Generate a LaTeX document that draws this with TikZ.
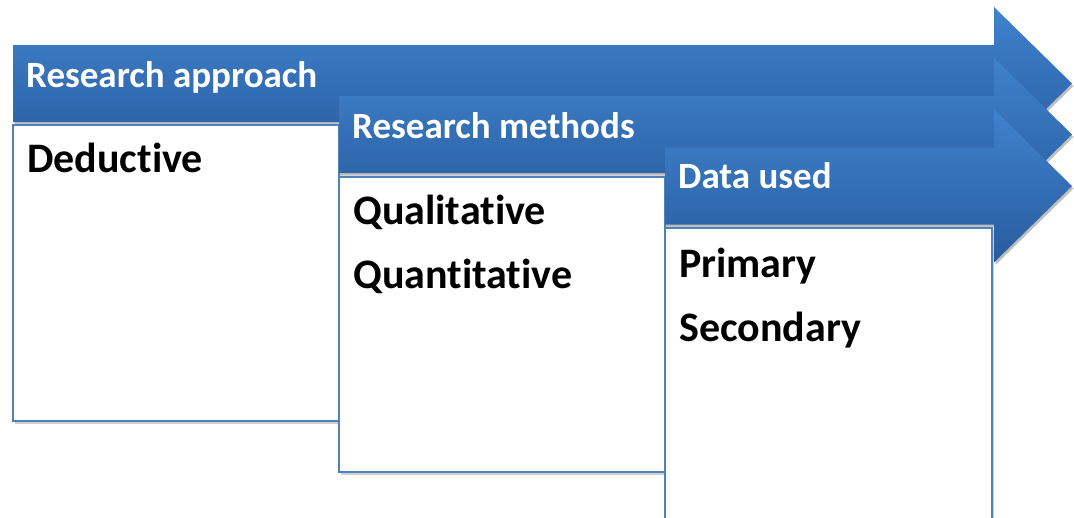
\documentclass[tikz,border=0pt]{standalone}
\usepackage{fontspec}
\setmainfont[Ligatures={NoCommon}]{Carlito}
\usetikzlibrary{calc}
\definecolor{arrtop}{RGB}{64,130,205}
\definecolor{arrbot}{RGB}{40,92,158}
\definecolor{boxline}{RGB}{79,129,189}
\tikzset{
  arrowshape/.style={top color=arrtop, bottom color=arrbot, draw=none},
  arrowshadow/.style={fill=black, opacity=0.25},
  boxshape/.style={fill=white, draw=boxline, line width=1.6pt},
  boxshadow/.style={fill=black, opacity=0.18},
  headtext/.style={anchor=base west, inner sep=0pt, text=white, font=\fontsize{37}{44}\selectfont\bfseries},
  bodytext/.style={anchor=base west, inner sep=0pt, text=black, font=\fontsize{42}{48}\selectfont\bfseries}
}
\newcommand{\arrowpath}[2]{% #1 = left x, #2 = centre y
  (#1,#2-38.5) -- (994,#2-38.5) -- (994,#2-76.5) -- (1072,#2) -- (994,#2+76.5) -- (994,#2+38.5) -- (#1,#2+38.5) -- cycle}
\begin{document}
\begin{tikzpicture}[x=1pt,y=-1pt]
\useasboundingbox (0,0) rectangle (1074,517);
\clip (0,0) rectangle (1074,517);
% arrow 1
\fill[arrowshadow] [shift={(1.5,2.5)}] \arrowpath{13}{83.5};
\path[arrowshape] \arrowpath{13}{83.5};
\node[headtext] (h1) at (26,87) {Research approach};
% box 1
\fill[boxshadow] (15,127) rectangle (341,424);
\draw[boxshape] (13,125) rectangle (339,421);
\node[bodytext] (b1) at (27,172) {Deductive};
% arrow 2
\fill[arrowshadow] [shift={(1.5,2.5)}] \arrowpath{339}{134.5};
\path[arrowshape] \arrowpath{339}{134.5};
\node[headtext] (h2) at (352,138) {Research methods};
% box 2
\fill[boxshadow] (341,179) rectangle (667,475);
\draw[boxshape] (339,177) rectangle (665,472);
\node[bodytext] (b2a) at (353,224) {Qualitative};
\node[bodytext] (b2b) at (353,288) {Quantitative};
% arrow 3
\fill[arrowshadow] [shift={(1.5,2.5)}] \arrowpath{665}{186};
\path[arrowshape] \arrowpath{665}{186};
\node[headtext] (h3) at (678,188) {Data used};
% box 3
\fill[boxshadow] (667,230) rectangle (994,540);
\draw[boxshape] (665,228) rectangle (992,540);
\node[bodytext] (b3a) at (679,277) {Primary};
\node[bodytext] (b3b) at (679,341) {Secondary};
\end{tikzpicture}
\end{document}
